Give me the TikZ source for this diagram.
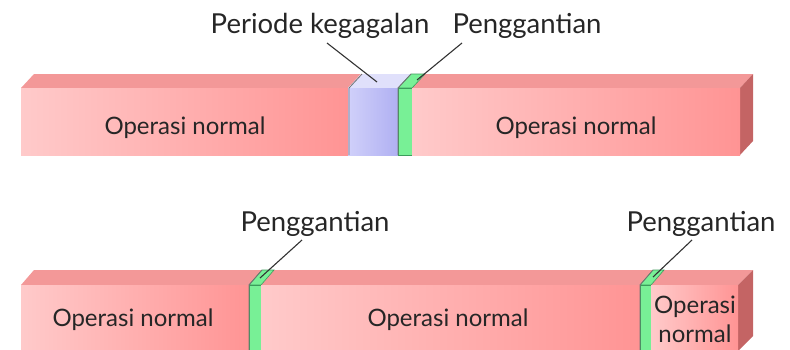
\documentclass[tikz,border=0pt]{standalone}
\usepackage{fontspec}
\setmainfont{Lato}

\definecolor{merahmuda}{HTML}{FFCACA}
\definecolor{merahtua}{HTML}{FF9494}
\definecolor{merahatas}{HTML}{F39898}
\definecolor{merahsisi}{HTML}{C46464}
\definecolor{birumuda}{HTML}{D0D0FA}
\definecolor{birutua}{HTML}{B0B0F2}
\definecolor{biruatas}{HTML}{E0E0FB}
\definecolor{hijau}{HTML}{78F096}
\definecolor{hijautua}{HTML}{3C9C5C}

\begin{document}
\begin{tikzpicture}[
    x=1pt, y=-1pt,
    normal/.style={left color=merahmuda, right color=merahtua, draw=none},
    gagal/.style={left color=birumuda, right color=birutua, draw=none},
    ganti/.style={fill=hijau, draw=hijautua, line width=0.6pt},
    atas/.style={fill=merahatas, draw=none},
    sisi/.style={fill=merahsisi, draw=none},
    tepi/.style={draw=black!55, line width=0.8pt},
    teks/.style={font=\fontsize{24}{29}\selectfont, text=black!85,
        inner sep=0pt, anchor=base},
    label/.style={font=\fontsize{27.5}{32}\selectfont, text=black!85,
        inner sep=0pt, anchor=base},
    garis/.style={draw=black!80, line width=1.1pt}
]
\useasboundingbox (0,0) rectangle (790,349);

% baris atas: operasi, kegagalan, penggantian, operasi
\fill[atas] (21,88) -- (34,74) -- (361,74) -- (348,88) -- cycle;
\fill[biruatas] (348,88) -- (361,74) -- (411,74) -- (398,88) -- cycle;
\fill[atas] (412,88) -- (425,74) -- (753,74) -- (740,88) -- cycle;
\draw[ganti] (398,88) -- (411,74) -- (425,74) -- (412,88) -- cycle;
\fill[sisi] (740,88) -- (753,74) -- (753,141) -- (740,155) -- cycle;
\fill[normal] (21,88) rectangle (348,155);
\fill[gagal] (348,88) rectangle (398,155);
\draw[ganti] (398,88) rectangle (412,155);
\fill[normal] (412,88) rectangle (740,155);
\draw[tepi] (349,155) -- (349,88) -- (362,74);
\draw[tepi] (398,155) -- (398,88) -- (411,74);

\node[teks] (op1) at (185,134) {Operasi normal};
\node[teks] (op2) at (576,134) {Operasi normal};
\node[label] (gagal) at (320,33) {Periode kegagalan};
\node[label] (ganti1) at (527,33) {Penggantian};
\coordinate (ujunggagal) at (377,82);
\coordinate (ujungganti1) at (417,80);
\draw[garis] (gagal.base) ++(7,10) -- (ujunggagal);
\draw[garis] (ganti1.base) ++(-65,10) -- (ujungganti1);

% baris bawah: operasi, penggantian, operasi, penggantian, operasi
\fill[atas] (21,285) -- (34,270) -- (262,270) -- (249,285) -- cycle;
\fill[atas] (261,285) -- (274,270) -- (653,270) -- (640,285) -- cycle;
\fill[atas] (651,285) -- (664,270) -- (753,270) -- (738,285) -- cycle;
\draw[ganti] (249,285) -- (262,270) -- (274,270) -- (261,285) -- cycle;
\draw[ganti] (640,285) -- (653,270) -- (664,270) -- (651,285) -- cycle;
\fill[sisi] (738,285) -- (753,270) -- (753,336) -- (738,351) -- cycle;
\fill[normal] (21,285) rectangle (249,351);
\draw[ganti] (249,285) rectangle (261,351);
\fill[normal] (261,285) rectangle (640,351);
\draw[ganti] (640,285) rectangle (651,351);
\fill[normal] (651,285) rectangle (738,351);
\draw[tepi] (249,351) -- (249,285) -- (262,270);
\draw[tepi] (640,351) -- (640,285) -- (653,270);

\node[teks] (op3) at (133,326) {Operasi normal};
\node[teks] (op4) at (448,326) {Operasi normal};
\node[teks] (op5) at (695,313) {Operasi};
\node[teks] (op5b) at (695,342) {normal};
\node[label] (ganti2) at (315,231) {Penggantian};
\node[label] (ganti3) at (701,231) {Penggantian};
\coordinate (ujungganti2) at (260,278);
\coordinate (ujungganti3) at (653,277);
\draw[garis] (ganti2.base) ++(-13,9) -- (ujungganti2);
\draw[garis] (ganti3.base) ++(-9,9) -- (ujungganti3);
\end{tikzpicture}
\end{document}
